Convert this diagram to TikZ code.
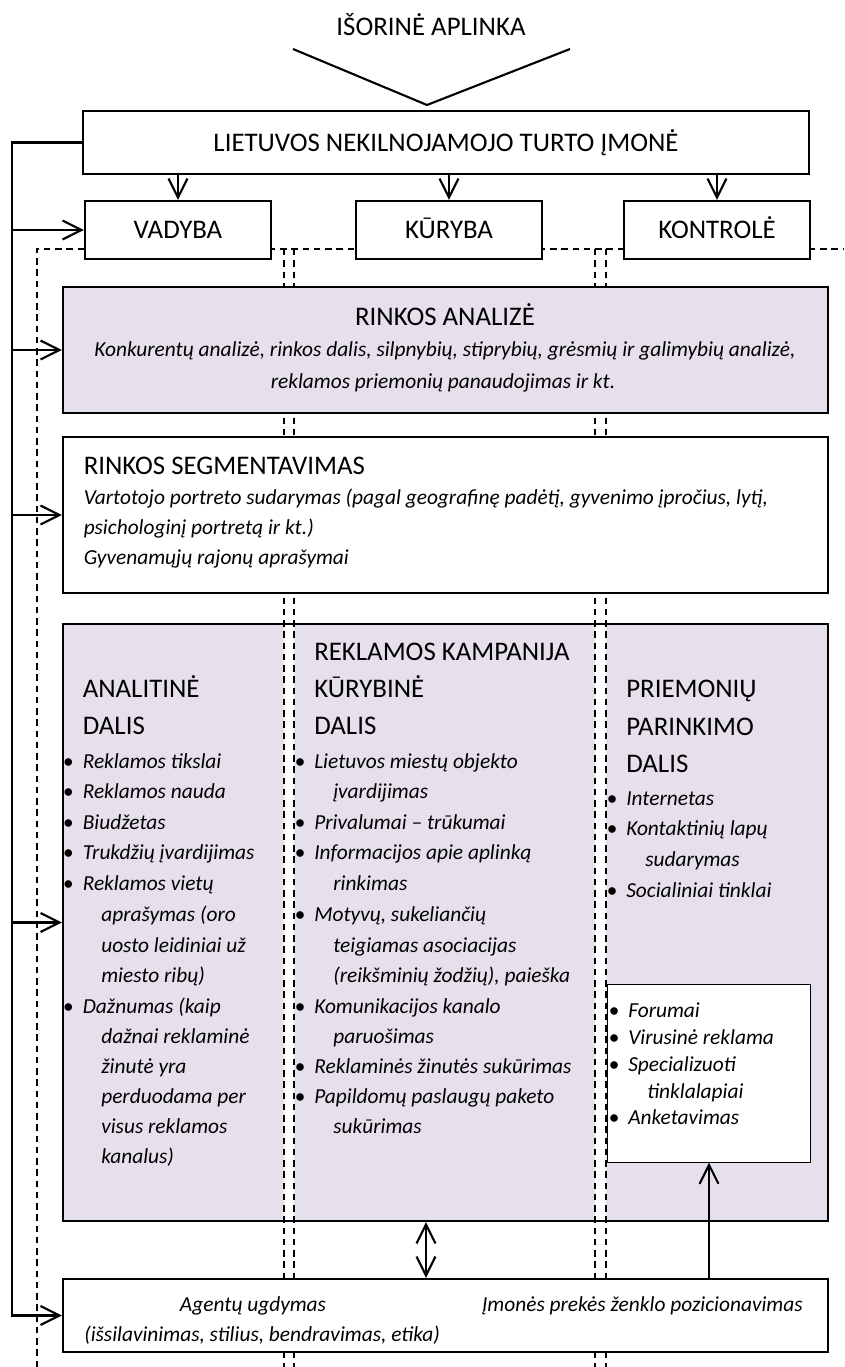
\documentclass[tikz,border=0pt]{standalone}
\usepackage{fontspec}
\setmainfont{Carlito}
\usetikzlibrary{arrows.meta}

\definecolor{lila}{RGB}{229,224,236}
\newcommand{\hdrfont}{\fontsize{19.1}{22}\selectfont}
\newcommand{\itfont}{\fontsize{15.2}{18}\selectfont\itshape}
\newcommand{\bul}{\llap{\textbullet\hspace{6.5pt}}}

\begin{document}
\begin{tikzpicture}[x=0.025cm,y=-0.025cm,
  box/.style={draw,line width=1.5pt,inner sep=0pt,fill=white},
  conn/.style={line width=1.5pt},
  lane/.style={line width=0.95pt,dash pattern=on 4.5pt off 3.5pt},
  hdr/.style={font=\hdrfont,inner sep=0pt,anchor=west,text height=12.3pt,text depth=0pt},
  itl/.style={font=\itfont,inner sep=0pt,anchor=west,text height=9.8pt,text depth=0pt},
  >={Straight Barb[length=13.5pt,width=13.5pt]}]
\useasboundingbox (0,0) rectangle (844,1367);

%%% big box with the three lanes %%%
  \node (big) at (445.5,922.5) [box,fill=lila,minimum width=19.125cm,minimum height=14.925cm] {};
  \fill[white] (284,625) rectangle (294,1220);
  \fill[white] (595,625) rectangle (606,1220);

  \draw[lane] (37,1367) |- (844,249);
  \draw[lane] (284,249) -- (284,1367);
  \draw[lane] (294,249) -- (294,1367);
  \draw[lane] (595,249) -- (595,1367);
  \draw[lane] (606,249) -- (606,1367);

%%% boxes %%%
  \node (top) at (446,142.5) [box,hdr,anchor=center,minimum width=18.125cm,minimum height=1.575cm] {LIETUVOS NEKILNOJAMOJO TURTO ĮMONĖ};
  \node (VAD) at (178,230) [box,hdr,anchor=center,minimum width=4.65cm,minimum height=1.45cm] {VADYBA};
  \node (KUR) at (449,230) [box,hdr,anchor=center,minimum width=4.65cm,minimum height=1.45cm] {KŪRYBA};
  \node (KON) at (717,230) [box,hdr,anchor=center,minimum width=4.65cm,minimum height=1.45cm] {KONTROLĖ};
  \node (ana) at (445.5,350) [box,fill=lila,minimum width=19.125cm,minimum height=3.15cm] {};
  \node (seg) at (445.5,515) [box,minimum width=19.125cm,minimum height=3.9cm] {};
  \node (inn) at (709,1073.5) [box,line width=0.7pt,minimum width=5.05cm,minimum height=4.425cm] {};
  \node (bot) at (445.5,1315.5) [box,minimum width=19.125cm,minimum height=1.825cm] {};

%%% texts %%%
  \node (env) at (431,27) [hdr,anchor=center] {IŠORINĖ APLINKA};

  \node (anaT) at (445,317) [hdr,anchor=center] {RINKOS ANALIZĖ};
  \node (ana1) at (445,350) [itl,anchor=center] {Konkurentų analizė, rinkos dalis, silpnybių, stiprybių, grėsmių ir galimybių analizė,};
  \node (ana2) at (443,382) [itl,anchor=center] {reklamos priemonių panaudojimas ir kt.};

  \node (segT) at (83.5,466) [hdr] {RINKOS SEGMENTAVIMAS};
  \node (seg1) at (83.5,498) [itl] {Vartotojo portreto sudarymas (pagal geografinę padėtį, gyvenimo įpročius, lytį,};
  \node (seg2) at (83.5,528) [itl] {psichologinį portretą ir kt.)};
  \node (seg3) at (83.5,558) [itl] {Gyvenamųjų rajonų aprašymai};

  \node (kamp) at (314,652) [hdr] {REKLAMOS KAMPANIJA};
  \node (anT1) at (82.5,689) [hdr] {ANALITINĖ};
  \node (anT2) at (82.5,726) [hdr] {DALIS};
  \node (kuT1) at (314,689) [hdr] {KŪRYBINĖ};
  \node (kuT2) at (314,726) [hdr] {DALIS};
  \node (prT1) at (626,689) [hdr] {PRIEMONIŲ};
  \node (prT2) at (626,727) [hdr] {PARINKIMO};
  \node (prT3) at (626,764) [hdr] {DALIS};

  \node (a1) at (82.5,762) [itl] {\bul Reklamos tikslai};
  \node (a2) at (82.5,792) [itl] {\bul Reklamos nauda};
  \node (a3) at (82.5,823) [itl] {\bul Biudžetas};
  \node (a4) at (82.5,853) [itl] {\bul Trukdžių įvardijimas};
  \node (a5) at (82.5,884) [itl] {\bul Reklamos vietų};
  \node (a6) at (101,915) [itl] {aprašymas (oro};
  \node (a7) at (101,946) [itl] {uosto leidiniai už};
  \node (a8) at (101,976) [itl] {miesto ribų)};
  \node (a9) at (82.5,1007) [itl] {\bul Dažnumas (kaip};
  \node (a10) at (101,1037) [itl] {dažnai reklaminė};
  \node (a11) at (101,1067) [itl] {žinutė yra};
  \node (a12) at (101,1097) [itl] {perduodama per};
  \node (a13) at (101,1127) [itl] {visus reklamos};
  \node (a14) at (101,1157) [itl] {kanalus)};

  \node (k1) at (314,762) [itl] {\bul Lietuvos miestų objekto};
  \node (k2) at (333,792) [itl] {įvardijimas};
  \node (k3) at (314,823) [itl] {\bul Privalumai – trūkumai};
  \node (k4) at (314,853) [itl] {\bul Informacijos apie aplinką};
  \node (k5) at (333,884) [itl] {rinkimas};
  \node (k6) at (314,915) [itl] {\bul Motyvų, sukeliančių};
  \node (k7) at (333,946) [itl] {teigiamas asociacijas};
  \node (k8) at (333,976) [itl] {(reikšminių žodžių), paieška};
  \node (k9) at (314,1007) [itl] {\bul Komunikacijos kanalo};
  \node (k10) at (333,1037) [itl] {paruošimas};
  \node (k11) at (314,1067) [itl] {\bul Reklaminės žinutės sukūrimas};
  \node (k12) at (314,1097) [itl] {\bul Papildomų paslaugų paketo};
  \node (k13) at (333,1127) [itl] {sukūrimas};

  \node (p1) at (626,799) [itl] {\bul Internetas};
  \node (p2) at (626,829) [itl] {\bul Kontaktinių lapų};
  \node (p3) at (645,860) [itl] {sudarymas};
  \node (p4) at (626,891) [itl] {\bul Socialiniai tinklai};

  \node (f1) at (628,1011) [itl] {\bul Forumai};
  \node (f2) at (628,1038) [itl] {\bul Virusinė reklama};
  \node (f3) at (628,1065) [itl] {\bul Specializuoti};
  \node (f4) at (647,1092) [itl] {tinklalapiai};
  \node (f5) at (628,1118) [itl] {\bul Anketavimas};

  \node (bot1) at (253,1305) [itl,anchor=center] {Agentų ugdymas};
  \node (bot2) at (84,1335) [itl] {(išsilavinimas, stilius, bendravimas, etika)};
  \node (bot3) at (803,1305) [itl,anchor=east] {Įmonės prekės ženklo pozicionavimas};

%%% connectors %%%
  \coordinate (v1) at (293,49);
  \coordinate (vt) at (427,105);
  \coordinate (v2) at (570,49);
  \draw[conn] (v1) -- (vt) -- (v2);

  \draw[conn,->] (VAD.north |- top.south) -- (VAD.north);
  \draw[conn,->] (KUR.north |- top.south) -- (KUR.north);
  \draw[conn,->] (KON.north |- top.south) -- (KON.north);

  \draw[conn,->] (top.west) -- ++(-70.5,0) coordinate (fb) |- (bot.west);
  \draw[conn,->] (fb |- VAD.west) -- (VAD.west);
  \draw[conn,->] (fb |- ana.west) -- (ana.west);
  \draw[conn,->] (fb |- seg.west) -- (seg.west);
  \draw[conn,->] (fb |- big.west) -- (big.west);

  \coordinate (dbl) at (426,1250);
  \draw[conn,<->] (dbl |- big.south) -- (dbl |- bot.north);
  \draw[conn,->] (inn.south |- bot.north) -- (inn.south);
\end{tikzpicture}
\end{document}
